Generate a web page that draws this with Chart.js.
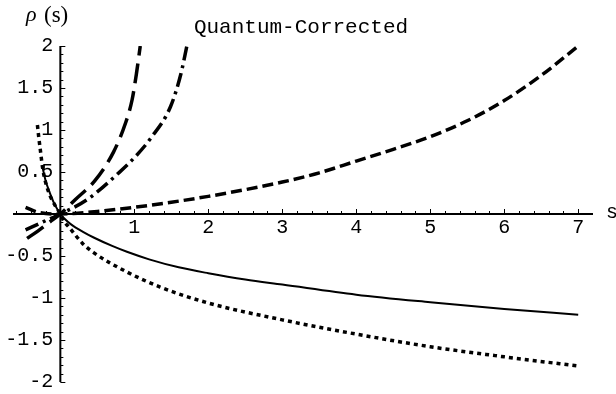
<!DOCTYPE html>
<html>
<head>
<meta charset="utf-8">
<script src="https://cdn.jsdelivr.net/npm/chart.js@4.4.1/dist/chart.umd.min.js"></script>
<style>
  html, body { margin: 0; padding: 0; background: #fff; }
  #wrap { width: 616px; height: 394px; }
</style>
</head>
<body>
<div id="wrap"><canvas id="c" width="616" height="394"></canvas></div>
<script>
// rho(s) curves, sampled along s
const sSolid   = [-0.24, -0.20, -0.15, -0.08, 0, 0.05, 0.14, 0.30, 0.45, 0.70, 0.90, 1.20, 1.60, 2.00, 2.50, 3.00, 4.00, 5.00, 6.00, 7.00];
const rhoSolid = [ 0.55,  0.40,  0.27,  0.12, 0, -0.05, -0.12, -0.21, -0.28, -0.38, -0.45, -0.54, -0.635, -0.705, -0.78, -0.84, -0.96, -1.05, -1.13, -1.20];

const sDotted   = [-0.31, -0.29, -0.27, -0.24, -0.20, -0.14, -0.07, 0, 0.05, 0.11, 0.30, 0.45, 0.90, 1.35, 2.00, 3.00, 4.00, 5.00, 6.00, 7.00];
const rhoDotted = [ 1.06,  0.90,  0.76,  0.55,  0.38,  0.22,  0.10, 0, -0.09, -0.15, -0.35, -0.46, -0.69, -0.87, -1.06, -1.26, -1.43, -1.58, -1.70, -1.81];

const sDashed   = [-0.47, -0.30, 0, 0.50, 1.00, 1.50, 2.00, 2.50, 3.00, 3.50, 4.00, 4.50, 5.00, 5.50, 6.00, 6.50, 7.00];
const rhoDashed = [ 0.08,  0.02, 0, 0.03, 0.08, 0.14, 0.21, 0.29, 0.38, 0.49, 0.63, 0.77, 0.92, 1.11, 1.35, 1.65, 2.00];

const sLongDash   = [-0.45, -0.30, -0.15, 0, 0.20, 0.47, 0.72, 0.88, 0.97, 1.03, 1.08];
const rhoLongDash = [-0.29, -0.20, -0.10, 0, 0.17, 0.40, 0.74, 1.08, 1.36, 1.68, 2.00];

const sDashDot   = [-0.47, -0.25, 0, 0.36, 0.79, 1.00, 1.22, 1.49, 1.63, 1.71];
const rhoDashDot = [-0.19, -0.10, 0, 0.17, 0.49, 0.67, 0.90, 1.28, 1.67, 2.00];

const xTickLabels = [1, 2, 3, 4, 5, 6, 7];
const yTickLabels = [-2, -1.5, -1, -0.5, 0.5, 1, 1.5, 2];

const S_MIN = -0.64, S_MAX = 7.2, R_MIN = -2, R_MAX = 2;

function pts(xs, ys) { return xs.map((v, i) => ({ x: v, y: ys[i] })); }

function curve(xs, ys, dash, width) {
  return {
    data: pts(xs, ys),
    showLine: true,
    borderColor: '#000',
    backgroundColor: '#000',
    borderWidth: width,
    borderDash: dash,
    borderCapStyle: 'butt',
    pointRadius: 0,
    pointHoverRadius: 0,
    cubicInterpolationMode: 'monotone',
    fill: false
  };
}

const tickFont = { family: '"Liberation Mono", "DejaVu Sans Mono", monospace', size: 20 };

// axis lines, Mathematica-style major/minor tick marks and free text
const axisDecor = {
  id: 'axisDecor',
  afterDatasetsDraw(chart) {
    const { ctx, scales: { x, y } } = chart;
    const x0 = x.getPixelForValue(0), y0 = y.getPixelForValue(0);
    ctx.save();
    ctx.strokeStyle = '#000';
    ctx.lineWidth = 2;
    ctx.beginPath();
    ctx.moveTo(x.getPixelForValue(S_MIN), y0);
    ctx.lineTo(x.getPixelForValue(S_MAX), y0);
    ctx.moveTo(x0, y.getPixelForValue(R_MIN));
    ctx.lineTo(x0, y.getPixelForValue(R_MAX));
    ctx.stroke();

    ctx.lineWidth = 1;
    ctx.beginPath();
    for (let k = -3; k <= 35; k++) {
      if (k === 0) continue;
      const px = Math.round(x.getPixelForValue(k * 0.2)) + 0.5;
      const len = (k % 5 === 0) ? 5 : 3;
      ctx.moveTo(px, y0);
      ctx.lineTo(px, y0 - len);
    }
    for (let k = -20; k <= 20; k++) {
      if (k === 0) continue;
      const py = Math.round(y.getPixelForValue(k * 0.1)) + 0.5;
      const len = (k % 5 === 0) ? 5 : 3;
      ctx.moveTo(x0, py);
      ctx.lineTo(x0 + len, py);
    }
    ctx.stroke();

    ctx.fillStyle = '#000';
    ctx.textBaseline = 'alphabetic';
    ctx.textAlign = 'left';
    ctx.font = 'italic 22px "Liberation Serif", serif';
    ctx.fillText('\u03C1', 26, 21);
    ctx.font = '23px "Liberation Serif", serif';
    ctx.fillText('(s)', 44, 22);

    ctx.font = '21px "Liberation Mono", monospace';
    ctx.textAlign = 'center';
    ctx.fillText('Quantum-Corrected', 301, 33);

    ctx.font = '20px "Liberation Mono", monospace';
    ctx.textAlign = 'left';
    ctx.fillText('s', 606, 218);
    ctx.restore();
  }
};

new Chart(document.getElementById('c'), {
  type: 'scatter',
  data: {
    datasets: [
      curve(sSolid, rhoSolid, [], 2),
      curve(sDotted, rhoDotted, [4, 4], 3.5),
      curve(sDashed, rhoDashed, [11, 5], 3.5),
      curve(sLongDash, rhoLongDash, [20, 8], 3.5),
      curve(sDashDot, rhoDashDot, [14, 5, 3, 5], 3.5)
    ]
  },
  options: {
    responsive: false,
    animation: false,
    events: [],
    layout: { padding: { left: 13, right: 23, top: 46, bottom: 12 } },
    plugins: { legend: { display: false }, tooltip: { enabled: false }, title: { display: false } },
    scales: {
      x: {
        type: 'linear',
        min: S_MIN, max: S_MAX,
        position: { y: 0 },
        grid: { display: false, drawTicks: false },
        border: { display: false },
        afterBuildTicks: (s) => { s.ticks = xTickLabels.map(v => ({ value: v })); },
        ticks: { color: '#000', font: tickFont, padding: 2, maxRotation: 0, autoSkip: false,
                 callback: (v) => String(v) }
      },
      y: {
        type: 'linear',
        min: R_MIN, max: R_MAX,
        // labels sit a little to the left of the s = 0 axis line
        position: { x: -0.095 },
        grid: { display: false, drawTicks: false },
        border: { display: false },
        afterBuildTicks: (s) => { s.ticks = yTickLabels.map(v => ({ value: v })); },
        ticks: { color: '#000', font: tickFont, padding: 0, autoSkip: false,
                 callback: (v) => String(v) }
      }
    }
  },
  plugins: [axisDecor]
});
</script>
</body>
</html>
